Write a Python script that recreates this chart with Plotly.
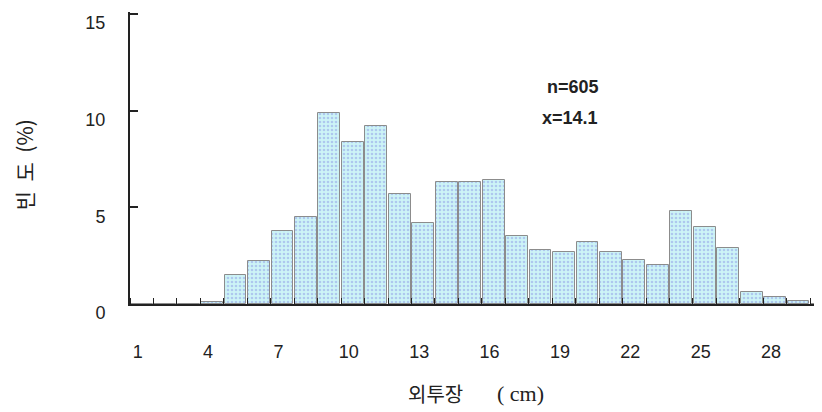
import plotly.graph_objects as go

categories = list(range(1, 31))
freq_pct = [0, 0, 0, 0.1, 1.5, 2.2, 3.8, 4.5, 9.9, 8.4, 9.2, 5.7, 4.2, 6.3, 6.3,
            6.4, 3.5, 2.8, 2.7, 3.2, 2.7, 2.3, 2.0, 4.8, 4.0, 2.9, 0.6, 0.35, 0.15, 0]
x_tick_vals = [1, 4, 7, 10, 13, 16, 19, 22, 25, 28]
x_tick_text = [str(v) for v in x_tick_vals]
y_tick_vals = [0, 5, 10, 15]

fig = go.Figure()
fig.add_trace(go.Bar(
    x=categories, y=freq_pct, width=0.93,
    marker=dict(color="#cdf4f6",
                line=dict(color="#8c8c8c", width=1),
                pattern=dict(shape=".", fgcolor="#8f9ce6", size=4, solidity=0.35)),
    showlegend=False,
))

fig.update_layout(
    width=822, height=412,
    margin=dict(l=122, r=8, t=4, b=116),
    paper_bgcolor="white", plot_bgcolor="white",
    font=dict(family="Liberation Sans, Arial, sans-serif", size=18, color="#222"),
    bargap=0,
)
fig.update_xaxes(
    range=[0.5, 30.0], tickmode="array", tickvals=x_tick_vals, ticktext=x_tick_text,
    ticks="", showgrid=False, zeroline=False, automargin=False,
    showline=True, linecolor="#222", linewidth=2,
    ticklabelstandoff=30, ticklabelshift=-4,
    minor=dict(ticks="inside", tickmode="linear", tick0=0.5, dtick=1,
               ticklen=6, tickcolor="#222", tickwidth=1, showgrid=False),
)
fig.update_yaxes(
    range=[0, 15.1], tickmode="array", tickvals=y_tick_vals,
    ticks="inside", ticklen=8, tickcolor="#222", tickwidth=1.5,
    showgrid=False, zeroline=False, automargin=False,
    showline=True, linecolor="#222", linewidth=2,
    ticklabelstandoff=19, ticklabelshift=9,
)

fig.add_annotation(text="빈 &nbsp;도 &nbsp;(%)", xref="paper", yref="paper",
                   x=-0.153, y=0.476, xanchor="center", yanchor="middle",
                   textangle=-90, showarrow=False,
                   font=dict(family="Noto Sans CJK KR", size=21, color="#222"))
fig.add_annotation(text="외투장", xref="paper", yref="paper", x=0.441, y=-0.305,
                   xanchor="center", yanchor="middle", showarrow=False,
                   font=dict(family="Noto Sans CJK KR", size=20, color="#222"))
fig.add_annotation(text="(&nbsp;cm)", xref="paper", yref="paper", x=0.565, y=-0.305,
                   xanchor="center", yanchor="middle", showarrow=False,
                   font=dict(family="Liberation Serif", size=22, color="#222"))
fig.add_annotation(text="<b>n=605</b>", xref="paper", yref="paper", x=0.599, y=0.743,
                   xanchor="left", yanchor="middle", showarrow=False,
                   font=dict(size=18, color="#222"))
fig.add_annotation(text="<b>x=14.1</b>", xref="paper", yref="paper", x=0.592, y=0.637,
                   xanchor="left", yanchor="middle", showarrow=False,
                   font=dict(size=18, color="#222"))

fig.write_html("out.html")
